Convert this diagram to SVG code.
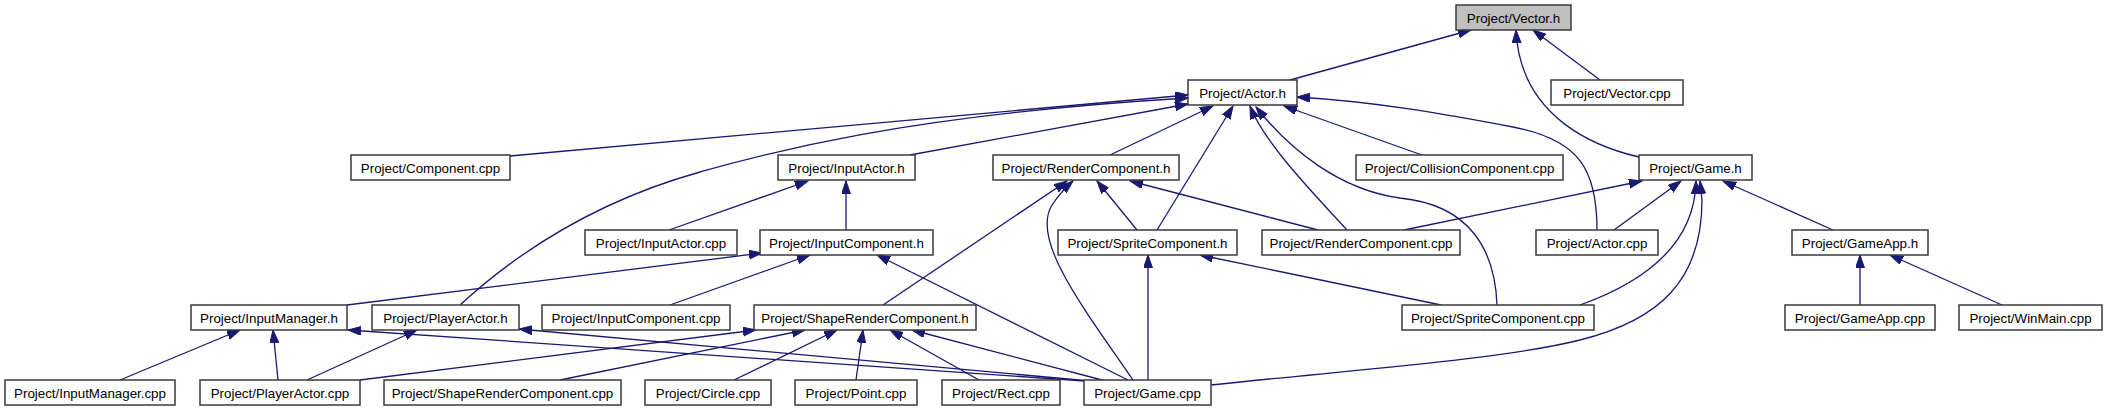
<svg xmlns="http://www.w3.org/2000/svg" width="2107" height="411" viewBox="0 0 2107 411">
<defs>
<style>
.n rect{fill:#ffffff;stroke:#3a3a3a;stroke-width:1.5}
.n.root rect{fill:#bfbfbf}
.n text{font-family:"Liberation Sans",Arial,sans-serif;font-size:13.33px;fill:#000;text-anchor:middle}
.e path{fill:none;stroke:#191970;stroke-width:1.3;marker-end:url(#ah)}
</style>
<marker id="ah" markerUnits="userSpaceOnUse" markerWidth="14" markerHeight="10" refX="13" refY="4.5" orient="auto">
<path d="M0,0 L13,4.5 L0,9 z" fill="#191970" stroke="#191970" stroke-width="1"/>
</marker>
</defs>
<rect width="2107" height="411" fill="#ffffff"/>
<g id="edges" class="e">
<path d="M1290,80 L1471,30"/>
<path d="M1600,80 L1533,30"/>
<path d="M1639,157 C1600,148 1520,120 1516,30"/>
<path d="M510,156 L1188,95"/>
<path d="M460,305 C520,250 600,200 700,172 C760,155 900,115 1188,98"/>
<path d="M910,155 L1188,104"/>
<path d="M1110,155 L1213,106"/>
<path d="M1157,230 L1233,106"/>
<path d="M1347,230 C1320,200 1265,145 1250,106"/>
<path d="M1497,305 C1495,250 1470,205 1400,198 C1340,190 1290,150 1256,107"/>
<path d="M1422,155 L1284,106"/>
<path d="M1597,230 C1597,170 1580,140 1513,127 C1450,115 1380,102 1297,97"/>
<path d="M669,230 L808,181"/>
<path d="M846,230 L846,181"/>
<path d="M883,305 L1067,181"/>
<path d="M1133,380 C1085,310 1030,240 1052,205 C1058,196 1065,188 1073,181"/>
<path d="M1137,230 L1097,181"/>
<path d="M1318,230 L1130,181"/>
<path d="M1404,230 L1642,181"/>
<path d="M1614,230 L1681,181"/>
<path d="M1580,305 C1650,280 1695,240 1696,181"/>
<path d="M1211,385 C1350,370 1500,360 1580,340 C1660,320 1702,280 1702,200 L1700,181"/>
<path d="M1833,230 L1723,181"/>
<path d="M347,305 L762,253"/>
<path d="M670,305 L810,255"/>
<path d="M1128,380 L877,255"/>
<path d="M1148,380 L1148,255"/>
<path d="M1441,305 L1200,255"/>
<path d="M1860,305 L1860,255"/>
<path d="M2002,305 L1890,255"/>
<path d="M120,380 L240,330"/>
<path d="M278,380 L273,330"/>
<path d="M1085,381 L348,330"/>
<path d="M307,380 L417,330"/>
<path d="M1090,381 L519,329"/>
<path d="M360,380 L756,330"/>
<path d="M560,380 L805,330"/>
<path d="M734,380 L837,330"/>
<path d="M856,380 L863,330"/>
<path d="M979,380 L890,330"/>
<path d="M1102,380 L912,330"/>
</g>
<g id="n_vector_h" class="n root"><rect x="1456" y="5" width="115" height="25"/><text x="1513.5" y="22.5">Project/Vector.h</text></g>
<g id="n_actor_h" class="n"><rect x="1188" y="80" width="109" height="25"/><text x="1242.5" y="97.5">Project/Actor.h</text></g>
<g id="n_vector_cpp" class="n"><rect x="1551" y="80" width="132" height="25"/><text x="1617" y="97.5">Project/Vector.cpp</text></g>
<g id="n_component_cpp" class="n"><rect x="351" y="155" width="159" height="25"/><text x="430.5" y="172.5">Project/Component.cpp</text></g>
<g id="n_inputactor_h" class="n"><rect x="778" y="155" width="137" height="25"/><text x="846.5" y="172.5">Project/InputActor.h</text></g>
<g id="n_rendercomponent_h" class="n"><rect x="993" y="155" width="186" height="25"/><text x="1086" y="172.5">Project/RenderComponent.h</text></g>
<g id="n_collisioncomponent_cpp" class="n"><rect x="1356" y="155" width="207" height="25"/><text x="1459.5" y="172.5">Project/CollisionComponent.cpp</text></g>
<g id="n_game_h" class="n"><rect x="1639" y="155" width="113" height="25"/><text x="1695.5" y="172.5">Project/Game.h</text></g>
<g id="n_inputactor_cpp" class="n"><rect x="585" y="230" width="152" height="25"/><text x="661" y="247.5">Project/InputActor.cpp</text></g>
<g id="n_inputcomponent_h" class="n"><rect x="760" y="230" width="173" height="25"/><text x="846.5" y="247.5">Project/InputComponent.h</text></g>
<g id="n_spritecomponent_h" class="n"><rect x="1058" y="230" width="179" height="25"/><text x="1147.5" y="247.5">Project/SpriteComponent.h</text></g>
<g id="n_rendercomponent_cpp" class="n"><rect x="1262" y="230" width="198" height="25"/><text x="1361" y="247.5">Project/RenderComponent.cpp</text></g>
<g id="n_actor_cpp" class="n"><rect x="1536" y="230" width="122" height="25"/><text x="1597" y="247.5">Project/Actor.cpp</text></g>
<g id="n_gameapp_h" class="n"><rect x="1792" y="230" width="136" height="25"/><text x="1860" y="247.5">Project/GameApp.h</text></g>
<g id="n_inputmanager_h" class="n"><rect x="191" y="305" width="156" height="25"/><text x="269" y="322.5">Project/InputManager.h</text></g>
<g id="n_playeractor_h" class="n"><rect x="372" y="305" width="147" height="25"/><text x="445.5" y="322.5">Project/PlayerActor.h</text></g>
<g id="n_inputcomponent_cpp" class="n"><rect x="542" y="305" width="188" height="25"/><text x="636" y="322.5">Project/InputComponent.cpp</text></g>
<g id="n_shaperendercomponent_h" class="n"><rect x="754" y="305" width="222" height="25"/><text x="865" y="322.5">Project/ShapeRenderComponent.h</text></g>
<g id="n_spritecomponent_cpp" class="n"><rect x="1402" y="305" width="192" height="25"/><text x="1498" y="322.5">Project/SpriteComponent.cpp</text></g>
<g id="n_gameapp_cpp" class="n"><rect x="1785" y="305" width="150" height="25"/><text x="1860" y="322.5">Project/GameApp.cpp</text></g>
<g id="n_winmain_cpp" class="n"><rect x="1959" y="305" width="143" height="25"/><text x="2030.5" y="322.5">Project/WinMain.cpp</text></g>
<g id="n_inputmanager_cpp" class="n"><rect x="5" y="380" width="170" height="25"/><text x="90" y="397.5">Project/InputManager.cpp</text></g>
<g id="n_playeractor_cpp" class="n"><rect x="200" y="380" width="160" height="25"/><text x="280" y="397.5">Project/PlayerActor.cpp</text></g>
<g id="n_shaperendercomponent_cpp" class="n"><rect x="384" y="380" width="237" height="25"/><text x="502.5" y="397.5">Project/ShapeRenderComponent.cpp</text></g>
<g id="n_circle_cpp" class="n"><rect x="645" y="380" width="126" height="25"/><text x="708" y="397.5">Project/Circle.cpp</text></g>
<g id="n_point_cpp" class="n"><rect x="795" y="380" width="122" height="25"/><text x="856" y="397.5">Project/Point.cpp</text></g>
<g id="n_rect_cpp" class="n"><rect x="942" y="380" width="118" height="25"/><text x="1001" y="397.5">Project/Rect.cpp</text></g>
<g id="n_game_cpp" class="n"><rect x="1084" y="380" width="127" height="25"/><text x="1147.5" y="397.5">Project/Game.cpp</text></g>
</svg>
